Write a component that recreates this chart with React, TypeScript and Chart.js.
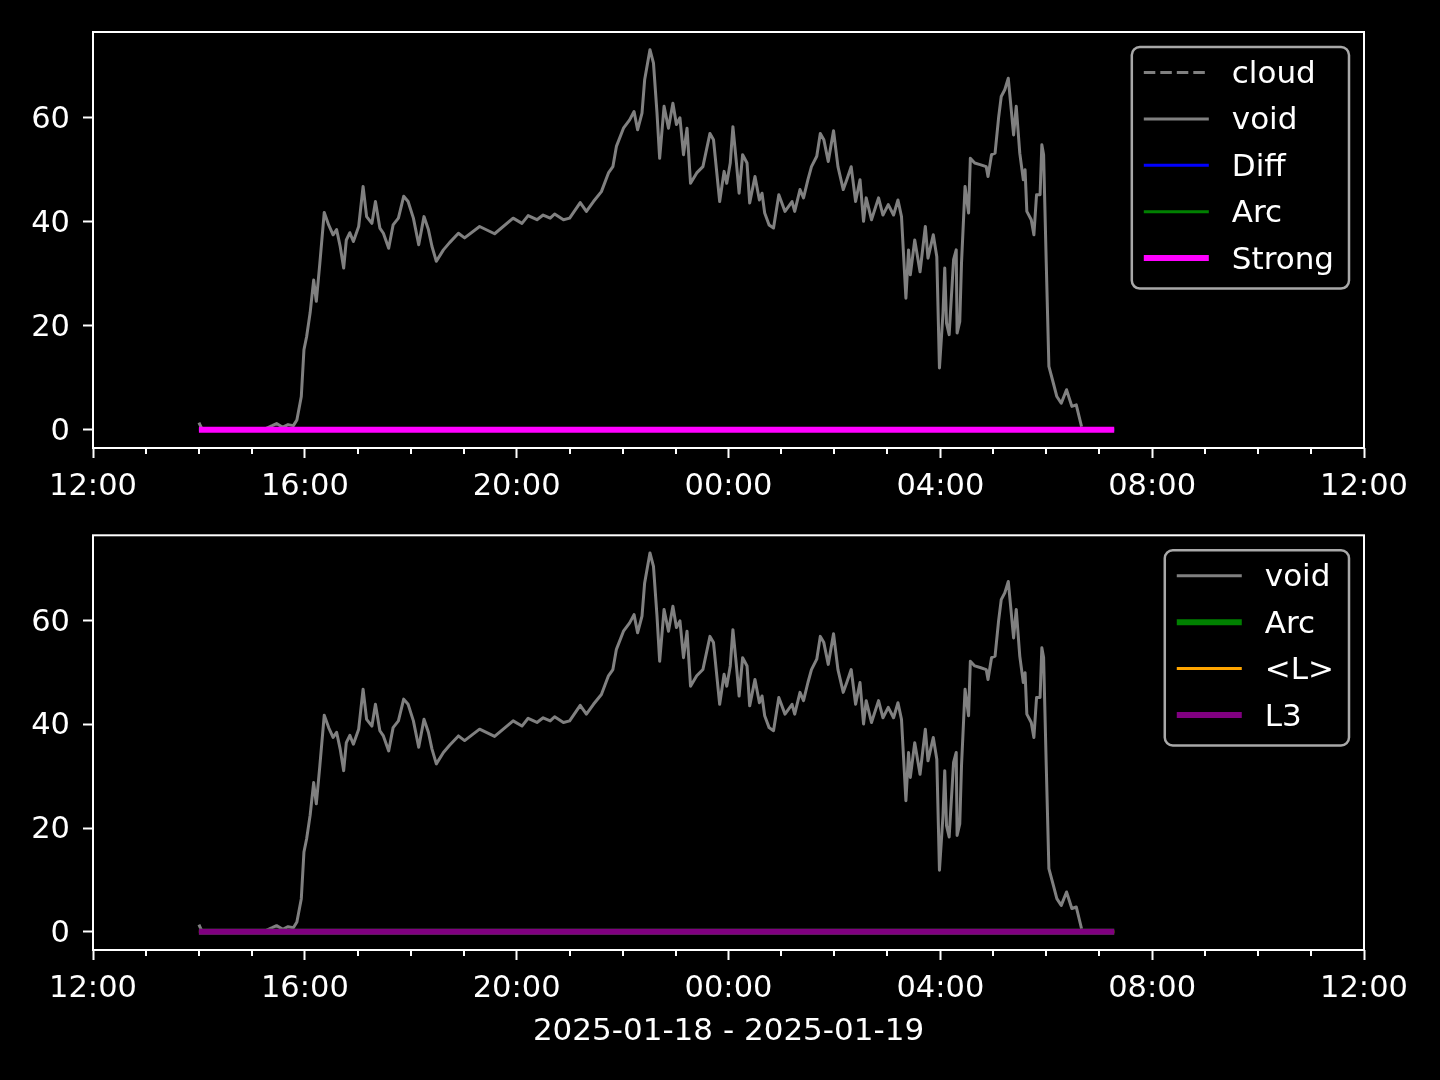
import React, { useEffect, useRef } from 'react';
import { Chart, registerables } from 'chart.js';

Chart.register(...registerables);

const FONT = "'DejaVu Sans', 'Liberation Sans', sans-serif";

// ---- Data ----
const voidTimes = [
  '14:00','14:03','14:35','15:15','15:23','15:28','15:35','15:41','15:47','15:51','15:56','15:59',
  '16:02','16:06','16:10','16:13','16:17','16:22','16:27','16:32','16:36','16:40','16:44','16:47','16:51','16:55',
  '17:01','17:06','17:10','17:16','17:20','17:25','17:29','17:35','17:40','17:46','17:52','17:57',
  '18:03','18:09','18:15','18:20','18:24','18:29','18:37','18:44','18:54',
  '19:01','19:18','19:35','19:56',
  '20:06','20:13','20:23','20:30','20:38','20:43','20:53',
  '21:00','21:12','21:19','21:27','21:36','21:44','21:49','21:53',
  '22:01','22:08','22:13','22:17','22:22','22:25','22:31','22:35','22:39','22:42','22:47','22:52','22:57',
  '23:01','23:05','23:09','23:13','23:17','23:24','23:31','23:39','23:43','23:50','23:55','23:58',
  '00:02','00:05','00:09','00:12','00:16','00:21','00:24','00:30','00:35','00:38','00:41','00:46','00:51','00:57',
  '01:04','01:12','01:15','01:21','01:25','01:30','01:34','01:40','01:44','01:48','01:53','01:59',
  '02:04','02:10','02:14','02:19','02:24','02:29','02:33','02:36','02:42','02:50','02:55',
  '03:01','03:07','03:12','03:16','03:21','03:24','03:26','03:31','03:37','03:43','03:46','03:52','03:56','03:59',
  '04:03','04:05','04:07','04:10','04:15','04:18','04:19','04:22','04:24','04:28','04:32','04:34','04:39','04:45','04:52','04:54','04:58',
  '05:02','05:06','05:09','05:13','05:17','05:23','05:26','05:30','05:34','05:36','05:38','05:43','05:46','05:49','05:53','05:55','05:57',
  '06:00','06:03','06:08','06:12','06:17','06:23','06:29','06:34','06:40',
];
const voidValues = [
  1.4,0.3,0.1,0.2,0.8,1.2,0.5,1.0,0.8,1.9,6.4,15.4,
  17.9,22.5,28.8,24.7,32.0,41.8,39.4,37.5,38.5,35.3,31.1,36.5,37.9,36.2,
  39.1,46.8,41.0,39.7,43.9,38.8,37.8,34.9,39.4,40.7,44.9,43.9,
  40.7,35.6,41.0,38.5,35.3,32.4,34.6,36.0,37.8,
  36.9,39.1,37.7,40.7,
  39.7,41.2,40.4,41.3,40.7,41.5,40.4,
  40.7,43.7,42.0,43.9,45.8,49.4,50.6,54.5,
  58.0,59.6,61.2,57.7,60.9,67.3,73.1,70.5,60.9,52.2,62.2,58.0,62.8,
  58.7,60.0,52.9,58.0,47.4,49.4,50.6,57.0,55.8,43.9,49.7,47.4,
  51.3,58.3,51.3,45.5,52.9,51.3,43.6,48.7,44.2,45.5,41.7,39.4,38.8,45.2,
  42.0,43.9,42.0,46.2,44.6,48.1,50.6,52.6,57.0,55.8,51.6,57.5,
  50.6,46.2,48.1,50.6,43.9,48.1,40.1,44.6,40.4,44.6,41.3,
  43.3,41.3,44.2,41.0,25.3,34.6,29.8,36.5,30.4,39.1,33.0,37.5,33.3,11.9,
  22.4,31.1,20.5,18.3,32.7,34.6,18.6,20.8,32.1,46.8,41.7,52.2,51.3,51.0,50.6,48.7,52.9,
  53.2,60.0,64.1,65.4,67.6,56.7,62.2,53.2,48.1,50.0,42.0,40.4,37.5,45.2,45.2,54.8,52.9,
  32.1,12.2,9.0,6.4,5.1,7.7,4.5,4.8,0.6,
];
const flatTimes = ['14:00', '07:17'];
const strongValues = [0, 0];
const diffValues = [0, 0];
const arcValues = [0, 0];
const lAvgValues = [0, 0];
const l3Values = [0, 0];
const cloudTimes: string[] = [];
const cloudValues: number[] = [];

const xTickMinutes = [0, 240, 480, 720, 960, 1200, 1440];
const xMinorMinutes = [60, 120, 180, 300, 360, 420, 540, 600, 660, 780, 840, 900, 1020, 1080, 1140, 1260, 1320, 1380];
const yTickValues = [0, 20, 40, 60];
const dateLabel = '2025-01-18 - 2025-01-19';

// minutes since 2025-01-18 12:00
function toMinutes(t: string): number {
  const [h, m] = t.split(':').map(Number);
  let v = h * 60 + m - 720;
  if (v < 0) v += 1440;
  return v;
}
function fmtMinutes(v: number): string {
  const total = (720 + v) % 1440;
  const h = Math.floor(total / 60);
  const m = total % 60;
  return String(h).padStart(2, '0') + ':' + String(m).padStart(2, '0');
}
function pts(times: string[], values: number[]) {
  return times.map((t, i) => ({ x: toMinutes(t), y: values[i] }));
}

type LegendItem = { label: string; color: string; width: number; dash?: number[] };

const decorPlugin = {
  id: 'decor',
  afterDraw(chart: any, _args: any, opts: any) {
    const { ctx, chartArea } = chart;
    const xs = chart.scales.x;
    ctx.save();
    // minor ticks
    ctx.strokeStyle = '#ffffff';
    ctx.lineWidth = 2;
    for (const m of xMinorMinutes) {
      const px = Math.round(xs.getPixelForValue(m));
      ctx.beginPath();
      ctx.moveTo(px, chartArea.bottom);
      ctx.lineTo(px, chartArea.bottom + 6);
      ctx.stroke();
    }
    // spines
    ctx.strokeRect(chartArea.left, chartArea.top, chartArea.right - chartArea.left, chartArea.bottom - chartArea.top);

    // legend
    const items: LegendItem[] = opts.items || [];
    ctx.font = `31px ${FONT}`;
    let maxW = 0;
    for (const it of items) maxW = Math.max(maxW, ctx.measureText(it.label).width);
    const boxW = 100 + maxW + 15;
    const rowH = 46.4;
    const boxH = 25.5 + (items.length - 1) * rowH + 30.5;
    const bx = chartArea.right - 15 - boxW;
    const by = chartArea.top + 15;
    const r = 8;
    ctx.beginPath();
    ctx.moveTo(bx + r, by);
    ctx.lineTo(bx + boxW - r, by);
    ctx.arcTo(bx + boxW, by, bx + boxW, by + r, r);
    ctx.lineTo(bx + boxW, by + boxH - r);
    ctx.arcTo(bx + boxW, by + boxH, bx + boxW - r, by + boxH, r);
    ctx.lineTo(bx + r, by + boxH);
    ctx.arcTo(bx, by + boxH, bx, by + boxH - r, r);
    ctx.lineTo(bx, by + r);
    ctx.arcTo(bx, by, bx + r, by, r);
    ctx.closePath();
    ctx.fillStyle = 'rgba(0,0,0,0.8)';
    ctx.fill();
    ctx.strokeStyle = '#a8a8a8';
    ctx.lineWidth = 2.5;
    ctx.stroke();
    items.forEach((it, i) => {
      const cy = by + 25.5 + i * rowH;
      ctx.beginPath();
      ctx.setLineDash(it.dash || []);
      ctx.strokeStyle = it.color;
      ctx.lineWidth = it.width;
      ctx.lineCap = 'butt';
      ctx.moveTo(bx + 12, cy);
      ctx.lineTo(bx + 77, cy);
      ctx.stroke();
      ctx.setLineDash([]);
      ctx.fillStyle = '#ffffff';
      ctx.textAlign = 'left';
      ctx.textBaseline = 'middle';
      ctx.fillText(it.label, bx + 100, cy + 2.5);
    });
    ctx.restore();
  },
};

function line(label: string, data: any[], color: string, width: number, order: number, dash?: number[]) {
  return {
    label,
    data,
    borderColor: color,
    backgroundColor: color,
    borderWidth: width,
    borderDash: dash || [],
    pointRadius: 0,
    pointHoverRadius: 0,
    tension: 0,
    fill: false,
    order,
    borderJoinStyle: 'round' as const,
    borderCapStyle: 'butt' as const,
  };
}

function makeConfig(datasets: any[], legend: LegendItem[], padTop: number, xHeight: number, title: boolean) {
  return {
    type: 'line' as const,
    data: { datasets },
    plugins: [decorPlugin],
    options: {
      animation: false as const,
      responsive: false,
      devicePixelRatio: 1,
      parsing: true,
      layout: { padding: { left: 0, right: 76, top: padTop, bottom: 0 } },
      plugins: {
        legend: { display: false },
        tooltip: { enabled: false },
        decor: { items: legend },
      },
      scales: {
        x: {
          type: 'linear' as const,
          min: 0,
          max: 1440,
          afterBuildTicks: (s: any) => { s.ticks = xTickMinutes.map((v) => ({ value: v })); },
          afterFit: (s: any) => { s.height = xHeight; },
          ticks: {
            color: '#ffffff',
            font: { family: FONT, size: 30.5 },
            padding: 11,
            maxRotation: 0,
            autoSkip: false,
            callback: (v: any) => fmtMinutes(Number(v)),
          },
          grid: { display: true, drawOnChartArea: false, drawTicks: true, tickLength: 10, tickColor: '#ffffff', tickWidth: 2 },
          border: { display: false },
          title: {
            display: title,
            text: dateLabel,
            color: '#ffffff',
            font: { family: FONT, size: 31 },
            padding: { top: 0, bottom: 29 },
          },
        },
        y: {
          type: 'linear' as const,
          min: -3.5,
          max: 76.5,
          afterBuildTicks: (s: any) => { s.ticks = yTickValues.map((v) => ({ value: v })); },
          afterFit: (s: any) => { s.width = 93; },
          ticks: {
            color: '#ffffff',
            font: { family: FONT, size: 30.5 },
            padding: 13,
            labelOffset: 2,
            autoSkip: false,
          },
          grid: { display: true, drawOnChartArea: false, drawTicks: true, tickLength: 10, tickColor: '#ffffff', tickWidth: 2 },
          border: { display: false },
        },
      },
    },
  };
}

function ChartCanvas({ top, height, config }: { top: number; height: number; config: () => any }) {
  const ref = useRef<HTMLCanvasElement | null>(null);
  useEffect(() => {
    if (!ref.current) return;
    const chart = new Chart(ref.current, config());
    return () => chart.destroy();
  }, []);
  return (
    <canvas
      ref={ref}
      width={1440}
      height={height}
      style={{ position: 'absolute', left: 0, top, width: 1440, height }}
    />
  );
}

export default function App() {
  Chart.defaults.font.family = FONT;
  const topConfig = () =>
    makeConfig(
      [
        line('cloud', pts(cloudTimes, cloudValues), '#808080', 3, 5, [11.5, 5]),
        line('void', pts(voidTimes, voidValues), '#808080', 3, 4),
        line('Diff', pts(flatTimes, diffValues), '#0000ff', 3, 3),
        line('Arc', pts(flatTimes, arcValues), '#008000', 3, 2),
        line('Strong', pts(flatTimes, strongValues), '#ff00ff', 6, 1),
      ],
      [
        { label: 'cloud', color: '#808080', width: 3, dash: [11.5, 5] },
        { label: 'void', color: '#808080', width: 3 },
        { label: 'Diff', color: '#0000ff', width: 3 },
        { label: 'Arc', color: '#008000', width: 3 },
        { label: 'Strong', color: '#ff00ff', width: 6 },
      ],
      32,
      92,
      false
    );
  const bottomConfig = () =>
    makeConfig(
      [
        line('void', pts(voidTimes, voidValues), '#808080', 3, 4),
        line('Arc', pts(flatTimes, arcValues), '#008000', 6, 3),
        line('<L>', pts(flatTimes, lAvgValues), '#ffa500', 3, 2),
        line('L3', pts(flatTimes, l3Values), '#800080', 6, 1),
      ],
      [
        { label: 'void', color: '#808080', width: 3 },
        { label: 'Arc', color: '#008000', width: 6 },
        { label: '<L>', color: '#ffa500', width: 3 },
        { label: 'L3', color: '#800080', width: 6 },
      ],
      31,
      130,
      true
    );
  return (
    <div style={{ position: 'absolute', left: 0, top: 0, width: 1440, height: 1080, background: '#000000', overflow: 'hidden' }}>
      <ChartCanvas top={0} height={540} config={topConfig} />
      <ChartCanvas top={504} height={576} config={bottomConfig} />
    </div>
  );
}
